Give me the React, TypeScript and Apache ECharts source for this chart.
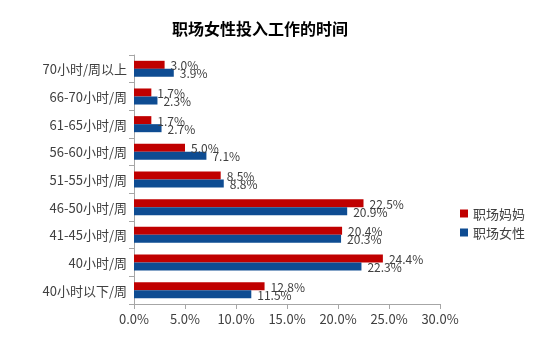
import React, { useEffect, useRef } from "react";
import * as echarts from "echarts";

const categories = ["40小时以下/周", "40小时/周", "41-45小时/周", "46-50小时/周", "51-55小时/周", "56-60小时/周", "61-65小时/周", "66-70小时/周", "70小时/周以上"];
const momValues = [12.8, 24.4, 20.4, 22.5, 8.5, 5.0, 1.7, 1.7, 3.0];
const womenValues = [11.5, 22.3, 20.3, 20.9, 8.8, 7.1, 2.7, 2.3, 3.9];
const seriesNames = ["职场妈妈", "职场女性"];
const xTicks = [0, 5, 10, 15, 20, 25, 30];

const FONT = "'Noto Sans CJK SC', sans-serif";

export default function App() {
  const ref = useRef<HTMLDivElement>(null);
  useEffect(() => {
    const chart = echarts.init(ref.current!, null, { renderer: "svg" });
    const label = {
      show: true,
      position: "right",
      distance: 6,
      formatter: (p: any) => p.value.toFixed(1) + "%",
      fontSize: 12,
      color: "#404040",
    };
    chart.setOption({
      animation: false,
      textStyle: { fontFamily: FONT },
      title: {
        text: "职场女性投入工作的时间",
        left: 255,
        textAlign: "center",
        top: 15,
        textStyle: { fontSize: 16, fontWeight: "bold", color: "#000", fontFamily: FONT },
      },
      legend: {
        orient: "vertical",
        left: 455,
        top: 202,
        itemWidth: 8,
        itemHeight: 8,
        itemGap: 6,
        icon: "rect",
        data: seriesNames,
        textStyle: { fontSize: 13, color: "#404040", fontFamily: FONT },
      },
      grid: { left: 134, right: 110, top: 55, bottom: 60, containLabel: false },
      xAxis: {
        type: "value",
        min: xTicks[0],
        max: xTicks[xTicks.length - 1],
        interval: xTicks[1] - xTicks[0],
        axisLine: { show: true, lineStyle: { color: "#a6a6a6" } },
        axisTick: { show: true, lineStyle: { color: "#a6a6a6" }, length: 5 },
        splitLine: { show: false },
        axisLabel: { formatter: (v: number) => v.toFixed(1) + "%", fontSize: 13, color: "#404040", margin: 8 },
      },
      yAxis: {
        type: "category",
        data: categories,
        axisLine: { show: true, lineStyle: { color: "#a6a6a6" } },
        axisTick: { show: true, lineStyle: { color: "#a6a6a6" }, length: 5 },
        axisLabel: { fontSize: 13, color: "#404040", margin: 7 },
      },
      series: [
        {
          name: seriesNames[0],
          type: "bar",
          data: momValues,
          itemStyle: { color: "#c00000" },
          barGap: "0%",
          barCategoryGap: "42%",
          label,
        },
        {
          name: seriesNames[1],
          type: "bar",
          data: womenValues,
          itemStyle: { color: "#0e4c92" },
          barGap: "0%",
          barCategoryGap: "42%",
          label,
        },
      ],
    });
    return () => chart.dispose();
  }, []);
  return <div ref={ref} style={{ position: "fixed", left: 0, top: 0, width: 550, height: 364 }} />;
}
